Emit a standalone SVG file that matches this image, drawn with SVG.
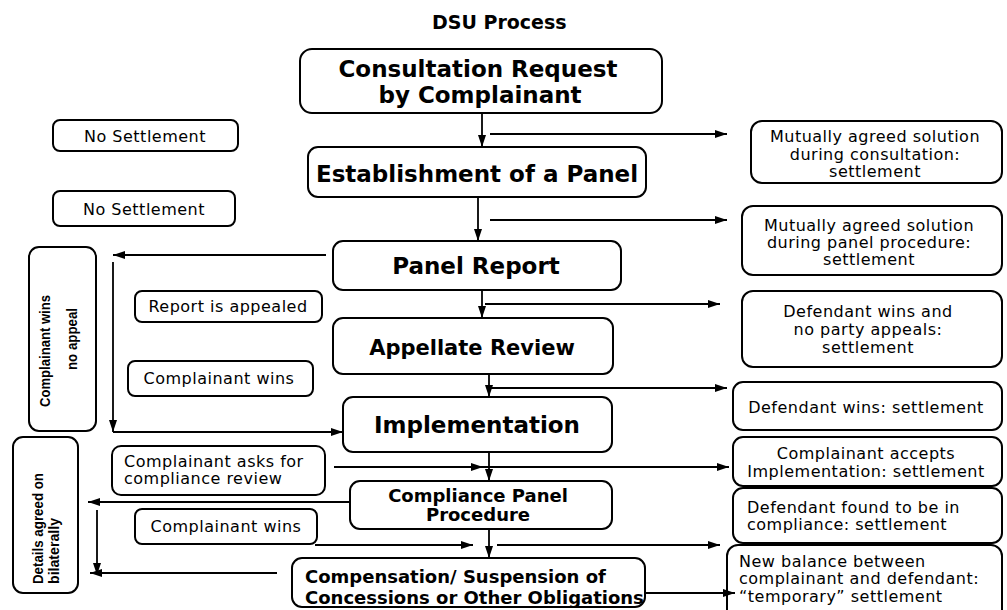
<svg xmlns="http://www.w3.org/2000/svg" width="1007" height="610" viewBox="0 0 1007 610">
<style>
.box{fill:#fff;stroke:#000;stroke-width:2}
.big{font-family:"DejaVu Sans",Verdana,sans-serif;font-weight:bold;fill:#000}
.reg{font-family:"DejaVu Sans",Verdana,sans-serif;font-size:16px;letter-spacing:0.5px;fill:#000}
.vt{font-family:"Liberation Sans",Arial,sans-serif;font-weight:bold;font-size:15px;fill:#000}
.c{text-anchor:middle}
.ln{stroke:#000;stroke-width:1.8;fill:none}
</style>
<defs>
<marker id="ah" markerWidth="13" markerHeight="8" refX="12" refY="4" orient="auto" markerUnits="userSpaceOnUse"><path d="M0,0 L12,4 L0,8 z" fill="#000"/></marker>
</defs>
<rect width="1007" height="610" fill="#fff"/>
<text class="big" x="432" y="29" font-size="19">DSU Process</text>

<g id="consultation">
<rect class="box" x="300" y="49" width="362" height="64" rx="12"/>
<text class="big c" x="478" y="77" font-size="23">Consultation Request</text>
<text class="big c" x="480" y="103" font-size="23">by Complainant</text>
</g>
<g id="establishment">
<rect class="box" x="308" y="147" width="338" height="50" rx="10"/>
<text class="big c" x="477" y="182" font-size="23">Establishment of a Panel</text>
</g>
<g id="panel-report">
<rect class="box" x="333" y="241" width="288" height="49" rx="10"/>
<text class="big c" x="476" y="274" font-size="23">Panel Report</text>
</g>
<g id="appellate">
<rect class="box" x="333" y="318" width="280" height="56" rx="10"/>
<text class="big c" x="472" y="355" font-size="21">Appellate Review</text>
</g>
<g id="implementation">
<rect class="box" x="343" y="397" width="269" height="55" rx="10"/>
<text class="big c" x="477" y="433" font-size="23">Implementation</text>
</g>
<g id="compliance">
<rect class="box" x="350" y="481" width="262" height="48" rx="10"/>
<text class="big c" x="478" y="502" font-size="18">Compliance Panel</text>
<text class="big c" x="478" y="521" font-size="18">Procedure</text>
</g>
<g id="compensation">
<rect class="box" x="292" y="558" width="353" height="49" rx="10"/>
<text class="big" x="305" y="583" font-size="18">Compensation/ Suspension of</text>
<text class="big" x="305" y="604" font-size="18">Concessions or Other Obligations</text>
</g>

<g id="no-settlement-1">
<rect class="box" x="53" y="120" width="185" height="31" rx="7"/>
<text class="reg c" x="145" y="142">No Settlement</text>
</g>
<g id="no-settlement-2">
<rect class="box" x="53" y="191" width="182" height="35" rx="7"/>
<text class="reg c" x="144" y="215">No Settlement</text>
</g>
<g id="complainant-wins-no-appeal">
<rect class="box" x="29" y="247" width="67" height="184" rx="10"/>
<text class="vt c" transform="translate(50,351) rotate(-90)" textLength="112" lengthAdjust="spacingAndGlyphs">Complainant wins</text>
<text class="vt c" transform="translate(77,339) rotate(-90)" textLength="62" lengthAdjust="spacingAndGlyphs">no appeal</text>
</g>
<g id="report-appealed">
<rect class="box" x="135" y="291" width="187" height="31" rx="7"/>
<text class="reg c" x="228" y="312">Report is appealed</text>
</g>
<g id="complainant-wins-1">
<rect class="box" x="128" y="361" width="185" height="35" rx="7"/>
<text class="reg c" x="219" y="384">Complainant wins</text>
</g>
<g id="compliance-review">
<rect class="box" x="112" y="446" width="213" height="49" rx="9"/>
<text class="reg" x="124" y="467">Complainant asks for</text>
<text class="reg" x="124" y="484">compliance review</text>
</g>
<g id="complainant-wins-2">
<rect class="box" x="135" y="509" width="182" height="35" rx="7"/>
<text class="reg c" x="226" y="532">Complainant wins</text>
</g>
<g id="details-bilaterally">
<rect class="box" x="13" y="437" width="65" height="156" rx="10"/>
<text class="vt" transform="translate(43,584) rotate(-90)" textLength="111" lengthAdjust="spacingAndGlyphs">Details agreed on</text>
<text class="vt" transform="translate(59,584) rotate(-90)" textLength="66" lengthAdjust="spacingAndGlyphs">bilaterally</text>
</g>

<g id="r-consultation">
<rect class="box" x="751" y="121" width="251" height="62" rx="11"/>
<text class="reg c" x="875" y="142">Mutually agreed solution</text>
<text class="reg c" x="875" y="160">during consultation:</text>
<text class="reg c" x="875" y="177">settlement</text>
</g>
<g id="r-panel">
<rect class="box" x="742" y="206" width="260" height="69" rx="11"/>
<text class="reg c" x="869" y="231">Mutually agreed solution</text>
<text class="reg c" x="869" y="248">during panel procedure:</text>
<text class="reg c" x="869" y="265">settlement</text>
</g>
<g id="r-no-appeal">
<rect class="box" x="742" y="291" width="260" height="76" rx="11"/>
<text class="reg c" x="868" y="317">Defendant wins and</text>
<text class="reg c" x="868" y="335">no party appeals:</text>
<text class="reg c" x="868" y="353">settlement</text>
</g>
<g id="r-defendant-wins">
<rect class="box" x="733" y="382" width="269" height="48" rx="10"/>
<text class="reg c" x="866" y="413">Defendant wins: settlement</text>
</g>
<g id="r-accepts">
<rect class="box" x="733" y="437" width="269" height="49" rx="10"/>
<text class="reg c" x="866" y="459">Complainant accepts</text>
<text class="reg c" x="866" y="477">Implementation: settlement</text>
</g>
<g id="r-compliance">
<rect class="box" x="733" y="488" width="269" height="55" rx="10"/>
<text class="reg" x="747" y="513">Defendant found to be in</text>
<text class="reg" x="747" y="530">compliance: settlement</text>
</g>
<g id="r-temporary">
<rect class="box" x="727" y="545" width="275" height="75" rx="11"/>
<text class="reg" x="739" y="567">New balance between</text>
<text class="reg" x="739" y="584">complainant and defendant:</text>
<text class="reg" x="739" y="602">“temporary” settlement</text>
</g>

<g id="connectors">
<line class="ln" x1="482" y1="113" x2="482" y2="147" marker-end="url(#ah)"/>
<line class="ln" x1="490" y1="134" x2="727" y2="134" marker-end="url(#ah)"/>
<line class="ln" x1="478" y1="197" x2="478" y2="241" marker-end="url(#ah)"/>
<line class="ln" x1="490" y1="220" x2="727" y2="220" marker-end="url(#ah)"/>
<line class="ln" x1="326" y1="255" x2="113" y2="255" marker-end="url(#ah)"/>
<line class="ln" x1="113" y1="262" x2="113" y2="432" marker-end="url(#ah)"/>
<line class="ln" x1="113" y1="432" x2="343" y2="432" marker-end="url(#ah)"/>
<line class="ln" x1="482" y1="290" x2="482" y2="318" marker-end="url(#ah)"/>
<line class="ln" x1="485" y1="304" x2="720" y2="304" marker-end="url(#ah)"/>
<line class="ln" x1="489" y1="374" x2="489" y2="397" marker-end="url(#ah)"/>
<line class="ln" x1="490" y1="388" x2="727" y2="388" marker-end="url(#ah)"/>
<line class="ln" x1="489" y1="452" x2="489" y2="481" marker-end="url(#ah)"/>
<line class="ln" x1="334" y1="467" x2="483" y2="467" marker-end="url(#ah)"/>
<line class="ln" x1="483" y1="467" x2="729" y2="467" marker-end="url(#ah)"/>
<line class="ln" x1="350" y1="502" x2="88" y2="502" marker-end="url(#ah)"/>
<line class="ln" x1="97" y1="510" x2="97" y2="575" marker-end="url(#ah)"/>
<line class="ln" x1="277" y1="573" x2="90" y2="573" marker-end="url(#ah)"/>
<line class="ln" x1="489" y1="529" x2="489" y2="558" marker-end="url(#ah)"/>
<line class="ln" x1="315" y1="545" x2="473" y2="545" marker-end="url(#ah)"/>
<line class="ln" x1="497" y1="545" x2="720" y2="545" marker-end="url(#ah)"/>
<line class="ln" x1="645" y1="593" x2="735" y2="593" marker-end="url(#ah)"/>
</g>
</svg>
